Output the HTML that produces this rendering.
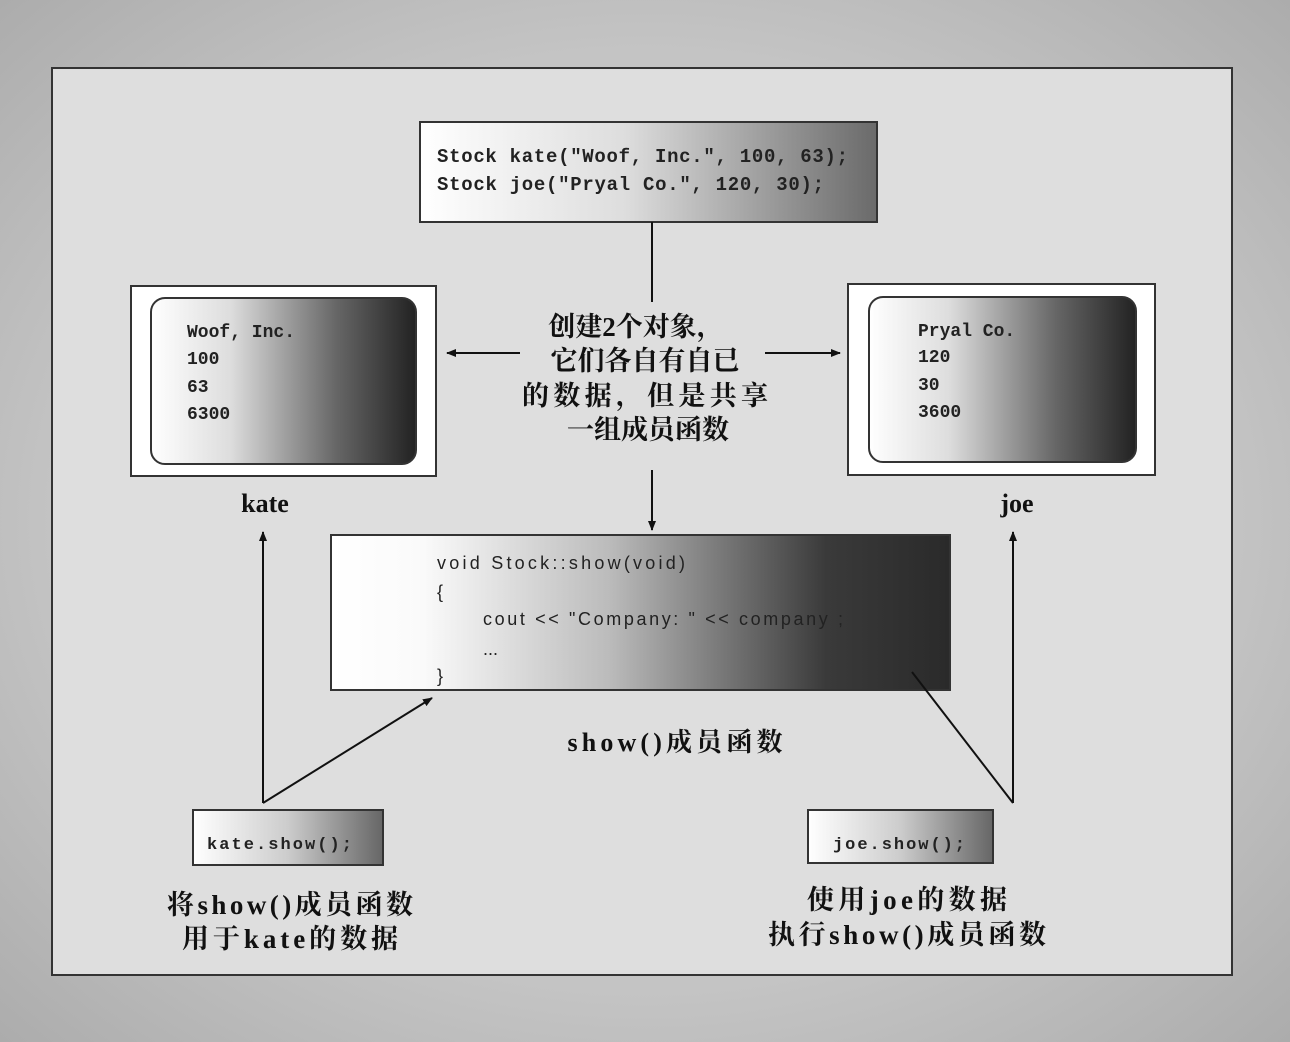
<!DOCTYPE html>
<html><head><meta charset="utf-8"><style>
html,body{margin:0;padding:0;width:1290px;height:1042px;overflow:hidden;background:#b5b5b5}
svg text.m{font-family:"Liberation Mono",monospace;font-weight:bold;fill:#222}
svg text.c{font-family:"Liberation Serif","Noto Serif CJK SC","Noto Sans CJK SC",serif;font-weight:bold;fill:#111}
</style></head><body>
<svg width="1290" height="1042" xmlns="http://www.w3.org/2000/svg">
<defs>
<radialGradient id="bg" cx="50%" cy="50%" r="75%">
<stop offset="0.6" stop-color="#c4c4c4"/><stop offset="1" stop-color="#a8a8a8"/></radialGradient>
<linearGradient id="g1" x1="0" x2="1"><stop offset="0" stop-color="#fff"/><stop offset="0.45" stop-color="#ddd"/><stop offset="1" stop-color="#6a6a6a"/></linearGradient>
<linearGradient id="g2" x1="0" x2="1"><stop offset="0" stop-color="#fff"/><stop offset="0.3" stop-color="#ddd"/><stop offset="0.7" stop-color="#666"/><stop offset="1" stop-color="#222"/></linearGradient>
<linearGradient id="g3" x1="0" x2="1"><stop offset="0" stop-color="#fff"/><stop offset="0.15" stop-color="#fafafa"/><stop offset="0.45" stop-color="#bbb"/><stop offset="0.8" stop-color="#3a3a3a"/><stop offset="1" stop-color="#2a2a2a"/></linearGradient>
<linearGradient id="g4" x1="0" x2="1"><stop offset="0" stop-color="#fff"/><stop offset="0.5" stop-color="#ccc"/><stop offset="1" stop-color="#666"/></linearGradient>
<marker id="a" markerWidth="10" markerHeight="10" refX="9" refY="5" orient="auto" markerUnits="userSpaceOnUse"><path d="M0,1 L10,5 L0,9 z" fill="#111"/></marker>
</defs>
<rect width="1290" height="1042" fill="url(#bg)"/>
<rect x="52" y="68" width="1180" height="907" fill="#dedede" stroke="#333" stroke-width="2"/>

<rect x="420" y="122" width="457" height="100" fill="url(#g1)" stroke="#333" stroke-width="2"/>
<text class="m" x="437" y="162" font-size="19" textLength="411">Stock kate("Woof, Inc.", 100, 63);</text>
<text class="m" x="437" y="190" font-size="19" textLength="387">Stock joe("Pryal Co.", 120, 30);</text>

<line x1="652" y1="222" x2="652" y2="302" stroke="#111" stroke-width="2"/>
<line x1="652" y1="470" x2="652" y2="530" stroke="#111" stroke-width="2" marker-end="url(#a)"/>

<rect x="131" y="286" width="305" height="190" fill="#fff" stroke="#333" stroke-width="2"/>
<rect x="151" y="298" width="265" height="166" rx="14" fill="url(#g2)" stroke="#333" stroke-width="2"/>
<text class="m" x="187" y="337" font-size="18">Woof, Inc.</text>
<text class="m" x="187" y="364" font-size="18">100</text>
<text class="m" x="187" y="392" font-size="18">63</text>
<text class="m" x="187" y="419" font-size="18">6300</text>

<rect x="848" y="284" width="307" height="191" fill="#fff" stroke="#333" stroke-width="2"/>
<rect x="869" y="297" width="267" height="165" rx="14" fill="url(#g2)" stroke="#333" stroke-width="2"/>
<text class="m" x="918" y="336" font-size="18">Pryal Co.</text>
<text class="m" x="918" y="362" font-size="18">120</text>
<text class="m" x="918" y="390" font-size="18">30</text>
<text class="m" x="918" y="417" font-size="18">3600</text>

<text class="c" x="636" y="336" font-size="27" text-anchor="middle">创建2个对象，</text>
<text class="c" x="645" y="370" font-size="27" text-anchor="middle">它们各自有自已</text>
<text class="c" x="645" y="405" font-size="27" text-anchor="middle" textLength="246">的数据，但是共享</text>
<text class="c" x="648" y="439" font-size="27" text-anchor="middle">一组成员函数</text>
<line x1="520" y1="353" x2="447" y2="353" stroke="#111" stroke-width="2" marker-end="url(#a)"/>
<line x1="765" y1="353" x2="840" y2="353" stroke="#111" stroke-width="2" marker-end="url(#a)"/>

<text class="c" x="265" y="512" font-size="26" text-anchor="middle">kate</text>
<text class="c" x="1017" y="512" font-size="26" text-anchor="middle">joe</text>

<rect x="331" y="535" width="619" height="155" fill="url(#g3)" stroke="#333" stroke-width="2"/>
<g font-family="Liberation Sans, sans-serif" font-size="18" fill="#222">
<text x="437" y="569" textLength="248">void Stock::show(void)</text>
<text x="437" y="598">{</text>
<text x="483" y="625" textLength="360">cout &lt;&lt; "Company: " &lt;&lt; company ;</text>
<text x="483" y="655">...</text>
<text x="437" y="682">}</text>
</g>
<text class="c" x="675" y="751" font-size="26" text-anchor="middle" textLength="215">show()成员函数</text>

<line x1="263" y1="803" x2="263" y2="532" stroke="#111" stroke-width="2" marker-end="url(#a)"/>
<line x1="263" y1="803" x2="432" y2="698" stroke="#111" stroke-width="2" marker-end="url(#a)"/>
<line x1="1013" y1="803" x2="1013" y2="532" stroke="#111" stroke-width="2" marker-end="url(#a)"/>
<line x1="1013" y1="803" x2="912" y2="672" stroke="#111" stroke-width="2"/>

<rect x="193" y="810" width="190" height="55" fill="url(#g4)" stroke="#333" stroke-width="2"/>
<text class="m" x="207" y="849" font-size="17" textLength="145">kate.show();</text>
<rect x="808" y="810" width="185" height="53" fill="url(#g4)" stroke="#333" stroke-width="2"/>
<text class="m" x="833" y="849" font-size="17" textLength="132">joe.show();</text>

<text class="c" x="290" y="914" font-size="27" text-anchor="middle" textLength="246">将show()成员函数</text>
<text class="c" x="290" y="948" font-size="27" text-anchor="middle" textLength="216">用于kate的数据</text>
<text class="c" x="907" y="909" font-size="27" text-anchor="middle" textLength="200">使用joe的数据</text>
<text class="c" x="907" y="944" font-size="27" text-anchor="middle" textLength="278">执行show()成员函数</text>
</svg>
</body></html>
